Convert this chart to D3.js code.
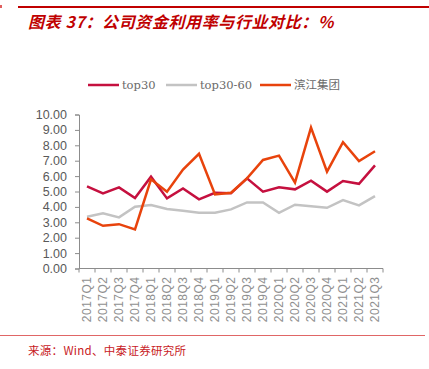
<!DOCTYPE html>
<html>
<head>
<meta charset="utf-8">
<script src="https://cdn.jsdelivr.net/npm/d3@7"></script>
<style>
  body { margin: 0; background: #fff; }
  #chart { width: 429px; height: 369px; }
</style>
</head>
<body>
<div id="chart"></div>
<script>
const quarters = ["2017Q1","2017Q2","2017Q3","2017Q4","2018Q1","2018Q2","2018Q3","2018Q4","2019Q1","2019Q2",
  "2019Q3","2019Q4","2020Q1","2020Q2","2020Q3","2020Q4","2021Q1","2021Q2","2021Q3"];
const top30 = [5.33,4.88,5.27,4.57,5.96,4.55,5.2,4.49,4.92,4.88,5.85,4.99,5.27,5.14,5.7,4.99,5.68,5.5,6.7];
const top30to60 = [3.36,3.58,3.32,4.01,4.12,3.86,3.75,3.62,3.62,3.84,4.29,4.29,3.62,4.14,4.05,3.94,4.44,4.1,4.7];
const binjiang = [3.25,2.77,2.88,2.54,5.79,4.99,6.42,7.45,4.81,4.92,5.85,7.05,7.33,5.57,9.15,6.29,8.2,6.98,7.61];
const yTicks = [0,1,2,3,4,5,6,7,8,9,10];

const series = [
  { name: "top30", values: top30, color: "#C5103F" },
  { name: "top30-60", values: top30to60, color: "#C3C3C3" },
  { name: "滨江集团", values: binjiang, color: "#E8430C" }
];

const svg = d3.select("#chart").append("svg")
  .attr("width", 429)
  .attr("height", 369);

// header
svg.append("rect").attr("x", 0).attr("y", 5).attr("width", 2).attr("height", 3).attr("fill", "#e06060");
svg.append("line")
  .attr("x1", 18).attr("x2", 429).attr("y1", 7).attr("y2", 7)
  .style("stroke", "#C00000").style("stroke-width", 2);
svg.append("text")
  .attr("x", 28).attr("y", 28)
  .style("font-family", "'Noto Sans CJK SC', sans-serif")
  .style("font-size", "16px")
  .style("letter-spacing", "0.6px")
  .style("font-weight", "bold")
  .style("font-style", "italic")
  .style("fill", "#C00000")
  .text("图表 37：公司资金利用率与行业对比：%");

const x = d3.scaleBand()
  .domain(quarters)
  .range([79, 383]);

const y = d3.scaleLinear()
  .domain([0, 10])
  .range([268.5, 114.5]);

// y axis
const yAxis = svg.append("g")
  .attr("transform", "translate(79,0)")
  .call(d3.axisLeft(y).tickValues(yTicks).tickFormat(d3.format(".2f")).tickSize(4).tickPadding(8));
yAxis.select(".domain").style("stroke", "#8c8c8c");
yAxis.selectAll("line").style("stroke", "#8c8c8c");
yAxis.selectAll("text")
  .style("font-family", "Arial, 'Liberation Sans', sans-serif")
  .style("font-size", "12.5px")
  .style("fill", "#595959");

// x axis, ticks at band boundaries
const xAxis = svg.append("g")
  .attr("transform", "translate(0,268.5)");
xAxis.append("line")
  .attr("x1", 79).attr("x2", 383)
  .style("stroke", "#8c8c8c").style("stroke-width", 1.2);
const bounds = quarters.map(q => x(q)).concat([x.range()[1]]);
xAxis.selectAll("line.tick")
  .data(bounds)
  .enter().append("line")
  .attr("class", "tick")
  .attr("x1", d => d).attr("x2", d => d)
  .attr("y1", 0).attr("y2", 4)
  .style("stroke", "#8c8c8c");
xAxis.selectAll("text")
  .data(quarters)
  .enter().append("text")
  .attr("transform", d => `translate(${x(d) + x.bandwidth() / 2 + 4},8) rotate(-90)`)
  .attr("text-anchor", "end")
  .style("font-family", "Arial, 'Liberation Sans', sans-serif")
  .style("font-size", "12px")
  .style("letter-spacing", "0.5px")
  .style("fill", "#909090")
  .text(d => d);

// lines
const line = d3.line()
  .x((d, i) => x(quarters[i]) + x.bandwidth() / 2)
  .y(d => y(d));

svg.selectAll("path.series")
  .data(series)
  .enter().append("path")
  .attr("class", "series")
  .attr("d", d => line(d.values))
  .style("fill", "none")
  .style("stroke", d => d.color)
  .style("stroke-width", 2.5)
  .style("stroke-linejoin", "miter");

// legend
const legendPos = [88, 166, 260];
const legend = svg.selectAll("g.legend")
  .data(series)
  .enter().append("g")
  .attr("class", "legend")
  .attr("transform", (d, i) => `translate(${legendPos[i]},85)`);
legend.append("line")
  .attr("x1", 0).attr("x2", 31)
  .style("stroke", d => d.color)
  .style("stroke-width", 2.5);
legend.append("text")
  .attr("x", 34).attr("y", 4)
  .style("font-family", "'DejaVu Serif', 'Noto Sans CJK SC', serif")
  .style("font-size", "11.5px")
  .style("fill", "#6a6a6a")
  .text(d => d.name);

// footer
svg.append("line")
  .attr("x1", 0).attr("x2", 425).attr("y1", 335.5).attr("y2", 335.5)
  .style("stroke", "#E06666").style("stroke-width", 1);
svg.append("text")
  .attr("x", 28).attr("y", 355)
  .style("font-family", "'Noto Sans CJK SC', sans-serif")
  .style("font-size", "11.5px")
  .style("letter-spacing", "0.3px")
  .style("fill", "#C8201E")
  .text("来源：Wind、中泰证券研究所");
</script>
</body>
</html>
